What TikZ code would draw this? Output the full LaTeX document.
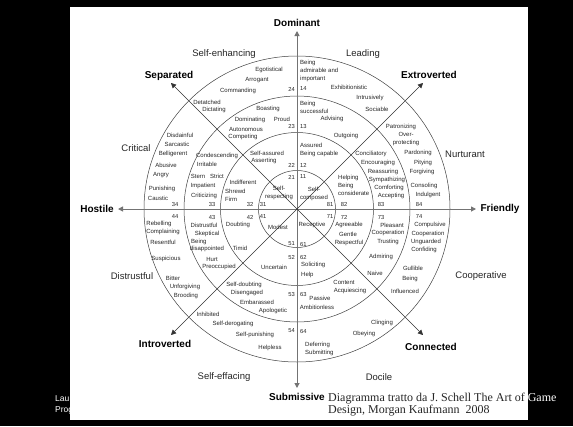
\documentclass[tikz,border=0pt]{standalone}
\usepackage{fontspec}
\setmainfont{Liberation Sans}
\newfontfamily\capfont{Liberation Serif}
\usetikzlibrary{arrows.meta,positioning}

\begin{document}
\begin{tikzpicture}[x=1pt,y=-1pt,
  trait node/.style={font=\fontsize{6}{8}\selectfont, inner sep=0pt, text=black!85, align=center},
  ring number/.style={font=\fontsize{5.8}{7}\selectfont, inner sep=0pt, text=black!85},
  octant label/.style={font=\fontsize{9.5}{11}\selectfont, inner sep=0pt, text=black!85},
  pole label/.style={font=\bfseries\fontsize{10}{12}\selectfont, inner sep=0pt},
  ring line/.style={draw=black!75, line width=0.5pt},
  axis arrow/.style={draw=black!55, line width=1pt, -{Triangle[length=5pt,width=5pt]}},
  diag arrow/.style={draw=black!80, line width=0.5pt, -{Triangle[length=5pt,width=5pt]}}]

  % slide background and white panel
  \useasboundingbox (0,0) rectangle (573,426);
  \fill[black] (0,0) rectangle (573,426);
  \node [anchor=west, inner sep=0pt, text=white, font=\fontsize{8.5}{11}\selectfont, align=left] (footer) at (55,405) {Lau\\Prog};
  \fill[white] (70,7) rectangle (528,420);

  % axes and rings
  \coordinate (c) at (297,209);
  \coordinate (domtip) at (297,31);
  \coordinate (subtip) at (297,388);
  \coordinate (hosttip) at (118,209);
  \coordinate (friendtip) at (476,209);
  \coordinate (septip) at (171,83);
  \coordinate (extip) at (423,83);
  \coordinate (introtip) at (171,335);
  \coordinate (contip) at (423,335);

  \draw[ring line] (c) circle[radius=38.5pt];
  \draw[ring line] (c) circle[radius=76.5pt];
  \draw[ring line] (c) circle[radius=113pt];
  \draw[ring line] (c) circle[radius=153pt];

  \draw[axis arrow] (c) -- (domtip);
  \draw[axis arrow] (c) -- (subtip);
  \draw[axis arrow] (c) -- (hosttip);
  \draw[axis arrow] (c) -- (friendtip);
  \draw[diag arrow] (c) -- (septip);
  \draw[diag arrow] (c) -- (extip);
  \draw[diag arrow] (c) -- (introtip);
  \draw[diag arrow] (c) -- (contip);

  % poles
  \node [pole label] (dominant) at (297,23) {Dominant};
  \node [pole label] (submissive) at (297,397) {Submissive};
  \node [pole label] (hostile) at (97,209) {Hostile};
  \node [pole label] (friendly) at (500,209) {Friendly};
  \node [pole label] (separated) at (169,76) {Separated};
  \node [pole label] (extroverted) at (429,75) {Extroverted};
  \node [pole label] (introverted) at (165,344) {Introverted};
  \node [pole label] (connected) at (431,347) {Connected};

  % octants
  \node [octant label] (selfenh) at (224,54) {Self-enhancing};
  \node [octant label] (leading) at (363,54) {Leading};
  \node [octant label] (critical) at (136,148) {Critical};
  \node [octant label] (nurturant) at (465,154) {Nurturant};
  \node [octant label] (distrustful) at (132,276) {Distrustful};
  \node [octant label] (cooperative) at (481,276) {Cooperative};
  \node [octant label] (selfeff) at (224,377) {Self-effacing};
  \node [octant label] (docile) at (379,377) {Docile};

  % ring numbers
  \node [ring number, anchor=east] (n24) at (295,89) {24};
  \node [ring number, anchor=west] (n14) at (300,89) {14};
  \node [ring number, anchor=east] (n23) at (295,127) {23};
  \node [ring number, anchor=west] (n13) at (300,127) {13};
  \node [ring number, anchor=east] (n22) at (295,165) {22};
  \node [ring number, anchor=west] (n12) at (300,165) {12};
  \node [ring number, anchor=east] (n21) at (295,177) {21};
  \node [ring number, anchor=west] (n11) at (300,177) {11};
  \node [ring number] (n34) at (175,204) {34};
  \node [ring number] (n33) at (212,204) {33};
  \node [ring number] (n32) at (250,204) {32};
  \node [ring number] (n31) at (263,204) {31};
  \node [ring number] (n81) at (330,204) {81};
  \node [ring number] (n82) at (344,204) {82};
  \node [ring number] (n83) at (381,204) {83};
  \node [ring number] (n84) at (419,204) {84};
  \node [ring number] (n44) at (175,217) {44};
  \node [ring number] (n43) at (212,217) {43};
  \node [ring number] (n42) at (250,217) {42};
  \node [ring number] (n41) at (263,217) {41};
  \node [ring number] (n71) at (330,217) {71};
  \node [ring number] (n72) at (344,217) {72};
  \node [ring number] (n73) at (381,217) {73};
  \node [ring number] (n74) at (419,217) {74};
  \node [ring number, anchor=east] (n51) at (295,244) {51};
  \node [ring number, anchor=west] (n61) at (300,244) {61};
  \node [ring number, anchor=east] (n52) at (295,257) {52};
  \node [ring number, anchor=west] (n62) at (300,257) {62};
  \node [ring number, anchor=east] (n53) at (295,294) {53};
  \node [ring number, anchor=west] (n63) at (300,294) {63};
  \node [ring number, anchor=east] (n54) at (295,331) {54};
  \node [ring number, anchor=west] (n64) at (300,331) {64};

  % upper right
  \node [trait node, anchor=west, align=left] (admirable) at (300,71) {Being\\admirable and\\important};
  \node [trait node] (exhibit) at (349,87) {Exhibitionistic};
  \node [trait node] (intrusive) at (370,98) {Intrusively};
  \node [trait node] (sociable) at (377,109) {Sociable};
  \node [trait node, anchor=west, align=left] (successful) at (300,107) {Being\\successful};
  \node [trait node] (advising) at (332,119) {Advising};
  \node [trait node] (outgoing) at (346,136) {Outgoing};
  \node [trait node] (patron) at (401,127) {Patronizing};
  \node [trait node] (overprot) at (406,139) {Over-\\protecting};
  \node [trait node, anchor=west] (assured) at (300,145) {Assured};
  \node [trait node, anchor=west] (capable) at (300,154) {Being capable};
  \node [trait node] (concil) at (371,154) {Conciliatory};
  \node [trait node] (encour) at (378,163) {Encouraging};
  \node [trait node] (reassur) at (383,172) {Reassuring};
  \node [trait node] (sympath) at (387,180) {Sympathizing};
  \node [trait node] (comfort) at (389,188) {Comforting};
  \node [trait node] (accept) at (391,196) {Accepting};
  \node [trait node] (pardon) at (418,153) {Pardoning};
  \node [trait node] (pitying) at (423,163) {Pitying};
  \node [trait node] (forgiving) at (422,172) {Forgiving};
  \node [trait node] (consoling) at (424,186) {Consoling};
  \node [trait node] (indulgent) at (428,195) {Indulgent};
  \node [trait node, anchor=west, align=left] (helping) at (338,185.5) {Helping\\Being\\considerate};
  \node [trait node] (selfcomp) at (314,194) {Self-\\composed};

  % lower right
  \node [trait node] (receptive) at (312,225) {Receptive};
  \node [trait node] (agreeable) at (349,225) {Agreeable};
  \node [trait node] (gentle) at (348,234) {Gentle};
  \node [trait node] (respectful) at (349,243) {Respectful};
  \node [trait node] (pleasant) at (392,225) {Pleasant};
  \node [trait node] (coop) at (388,233) {Cooperation};
  \node [trait node] (trusting) at (388,242) {Trusting};
  \node [trait node] (compulsive) at (430,225) {Compulsive};
  \node [trait node] (coopb) at (428,234) {Cooperation};
  \node [trait node] (unguarded) at (426,242) {Unguarded};
  \node [trait node] (confiding) at (424,250) {Confiding};
  \node [trait node] (admiring) at (381,257) {Admiring};
  \node [trait node, anchor=west] (soliciting) at (301,265) {Soliciting};
  \node [trait node, anchor=west] (help) at (301,275) {Help};
  \node [trait node] (naive) at (375,273) {Naive};
  \node [trait node] (gullible) at (413,268) {Gullible};
  \node [trait node] (beinginf) at (410,279) {Being};
  \node [trait node] (influenced) at (405,291) {Influenced};
  \node [trait node] (content) at (344,282) {Content};
  \node [trait node] (acquiesce) at (350,291) {Acquiescing};
  \node [trait node] (passive) at (320,298) {Passive};
  \node [trait node] (ambition) at (317,307) {Ambitionless};
  \node [trait node] (clinging) at (382,323) {Clinging};
  \node [trait node] (obeying) at (364,334) {Obeying};
  \node [trait node, anchor=west, align=left] (deferring) at (305,349) {Deferring\\Submitting};

  % upper left
  \node [trait node] (egotist) at (269,70) {Egotistical};
  \node [trait node] (arrogant) at (257,80) {Arrogant};
  \node [trait node] (commanding) at (238,91) {Commanding};
  \node [trait node] (detatched) at (207,102) {Detatched};
  \node [trait node] (dictating) at (214,110) {Dictating};
  \node [trait node] (boasting) at (268,109) {Boasting};
  \node [trait node] (dominating) at (250,120) {Dominating};
  \node [trait node] (proud) at (282,119) {Proud};
  \node [trait node] (autonomous) at (246,129) {Autonomous};
  \node [trait node] (competing) at (243,137) {Competing};
  \node [trait node] (disdainful) at (180,135) {Disdainful};
  \node [trait node] (sarcastic) at (177,144) {Sarcastic};
  \node [trait node] (belligerent) at (173,154) {Belligerent};
  \node [trait node] (abusive) at (166,165) {Abusive};
  \node [trait node] (angry) at (161,175) {Angry};
  \node [trait node] (punishing) at (162,189) {Punishing};
  \node [trait node] (caustic) at (158,198) {Caustic};
  \node [trait node] (condesc) at (217,156) {Condescending};
  \node [trait node] (irritable) at (207,164) {Irritable};
  \node [trait node] (selfassured) at (267,153) {Self-assured};
  \node [trait node] (asserting) at (264,161) {Asserting};
  \node [trait node] (stern) at (198,176) {Stern};
  \node [trait node] (strict) at (217,176) {Strict};
  \node [trait node] (impatient) at (203,186) {Impatient};
  \node [trait node] (criticizing) at (204,196) {Criticizing};
  \node [trait node] (indifferent) at (243,182) {Indifferent};
  \node [trait node, anchor=west, align=left] (shrewd) at (225,195.5) {Shrewd\\Firm};
  \node [trait node] (selfresp) at (279,193) {Self-\\respecting};

  % lower left
  \node [trait node] (rebelling) at (159,224) {Rebelling};
  \node [trait node] (complaining) at (163,232) {Complaining};
  \node [trait node] (resentful) at (163,242) {Resentful};
  \node [trait node] (suspicious) at (166,259) {Suspicious};
  \node [trait node] (bitter) at (173,278) {Bitter};
  \node [trait node] (unforgiving) at (185,287) {Unforgiving};
  \node [trait node] (brooding) at (186,296) {Brooding};
  \node [trait node] (distrustfulb) at (204,225) {Distrustful};
  \node [trait node] (skeptical) at (207,234) {Skeptical};
  \node [trait node, anchor=west] (beingdis) at (191,242) {Being};
  \node [trait node] (disappointed) at (207,249) {disappointed};
  \node [trait node] (hurt) at (212,259) {Hurt};
  \node [trait node] (preoccupied) at (219,267) {Preoccupied};
  \node [trait node] (doubting) at (238,225) {Doubting};
  \node [trait node] (timid) at (240,248) {Timid};
  \node [trait node] (modest) at (278,227) {Modest};
  \node [trait node] (uncertain) at (274,267) {Uncertain};
  \node [trait node] (selfdoubt) at (244,285) {Self-doubting};
  \node [trait node] (disengaged) at (247,293) {Disengaged};
  \node [trait node] (embarassed) at (257,302) {Embarassed};
  \node [trait node] (apologetic) at (273,311) {Apologetic};
  \node [trait node] (inhibited) at (208,314) {Inhibited};
  \node [trait node] (selfderog) at (233,324) {Self-derogating};
  \node [trait node] (selfpun) at (255,335) {Self-punishing};
  \node [trait node] (helpless) at (270,348) {Helpless};

  % caption
  \node [anchor=west, inner sep=0pt, align=left, font=\capfont\fontsize{12}{12}\selectfont, text=black!85] (caption) at (328,405) {Diagramma tratto da J. Schell The Art of \textcolor{white}{Game}\\Design, Morgan Kaufmann\ \ 2008};
\end{tikzpicture}
\end{document}
